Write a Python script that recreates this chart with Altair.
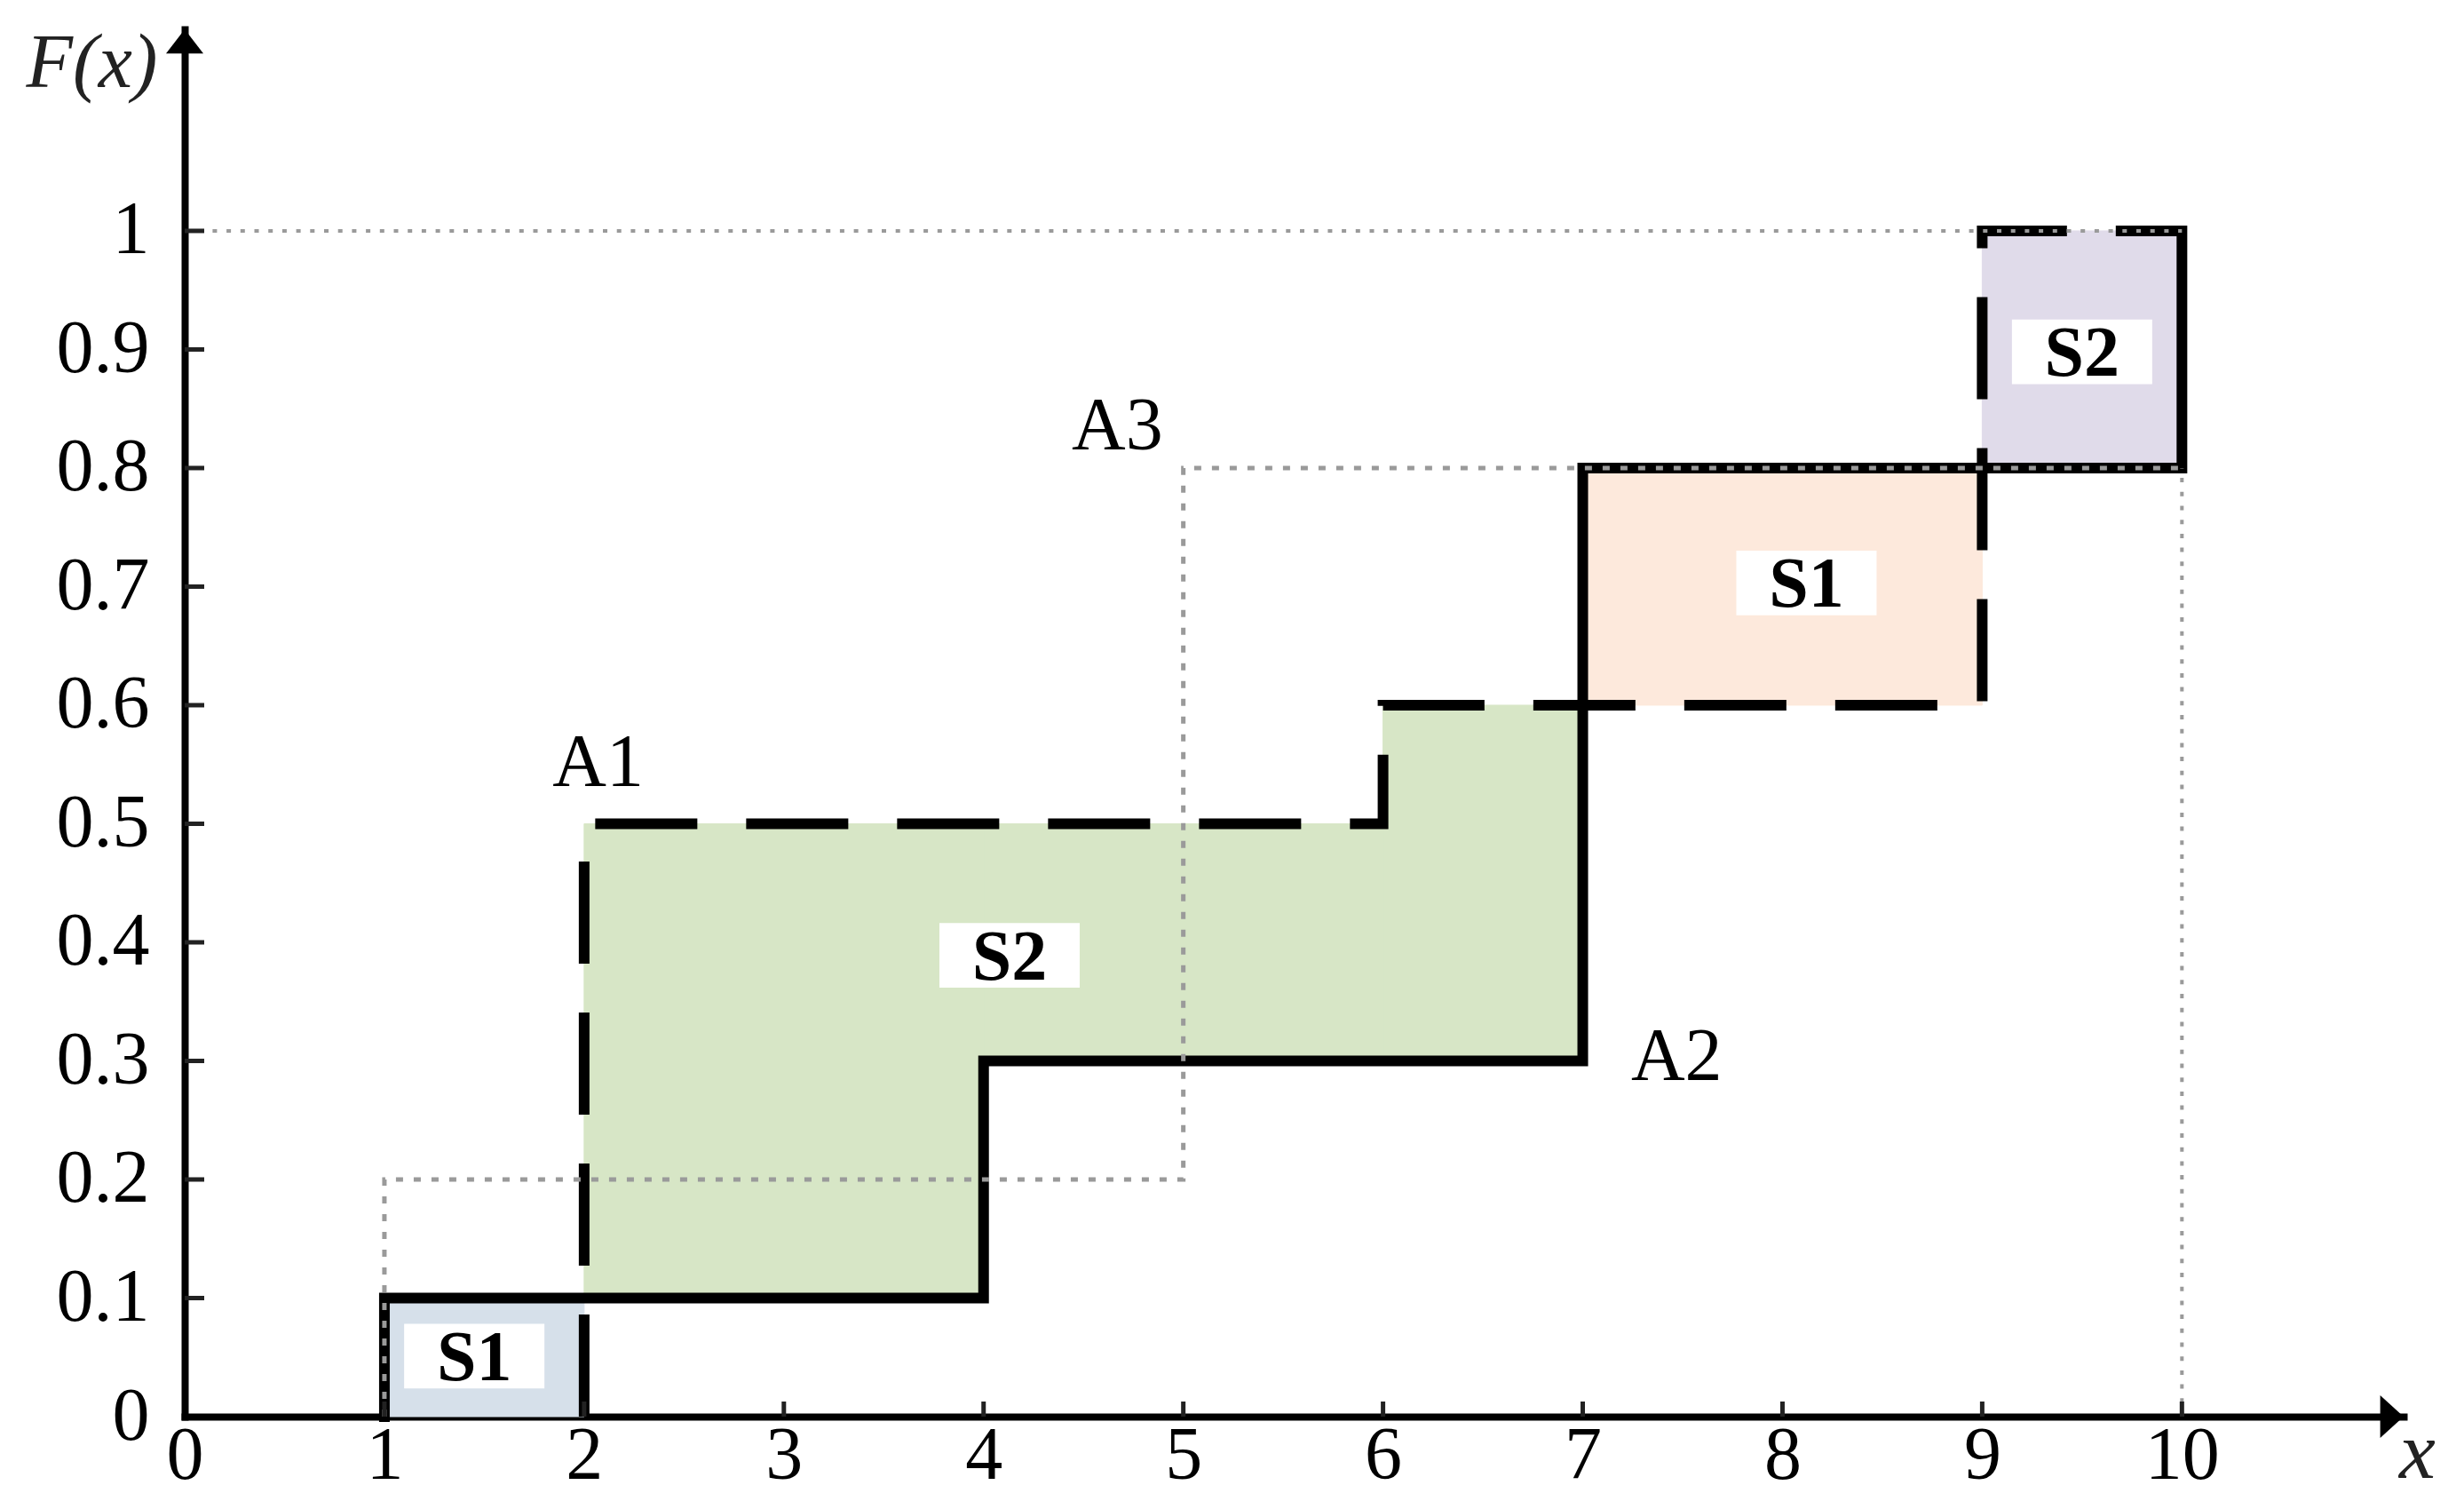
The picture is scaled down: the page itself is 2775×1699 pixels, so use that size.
import altair as alt
import pandas as pd

# ---- step functions (corner points) ----
a1_x = [2, 2, 6, 6, 9, 9, 10]
a1_y = [0, 0.5, 0.5, 0.6, 0.6, 1.0, 1.0]
a2_x = [1, 1, 4, 4, 7, 7, 10, 10]
a2_y = [0, 0.1, 0.1, 0.3, 0.3, 0.8, 0.8, 1.0]
a3_x = [1, 1, 5, 5, 10]
a3_y = [0, 0.2, 0.2, 0.8, 0.8]
ref_h_x = [0, 10]
ref_h_y = [1.0, 1.0]
ref_v_x = [10, 10]
ref_v_y = [0, 0.8]

# ---- shaded areas (rect pieces) ----
region_x = [1, 2, 4, 6, 7, 9]
region_x2 = [2, 4, 6, 7, 9, 10]
region_y = [0, 0.1, 0.3, 0.3, 0.6, 0.8]
region_y2 = [0.1, 0.5, 0.5, 0.6, 0.8, 1.0]
region_colors = ["#d6e0ea", "#d7e6c6", "#d7e6c6", "#d7e6c6", "#fde9dc", "#e0dbea"]

# ---- labels ----
area_labels = ["S1", "S2", "S1", "S2"]
area_label_x = [1.45, 4.13, 8.12, 9.5]
area_label_y = [0.051, 0.389, 0.703, 0.898]

curve_labels = ["A1", "A2", "A3"]
curve_label_x = [2.07, 7.47, 4.67]
curve_label_y = [0.553, 0.305, 0.837]

x_ticks = [0, 1, 2, 3, 4, 5, 6, 7, 8, 9, 10]
y_ticks = [0, 0.1, 0.2, 0.3, 0.4, 0.5, 0.6, 0.7, 0.8, 0.9, 1.0]
x_max = 11.11
y_max = 1.17

W, H = 2499, 1562
SERIF = "Liberation Serif"

xs = alt.Scale(domain=[0, x_max], nice=False, zero=False)
ys = alt.Scale(domain=[0, y_max], nice=False, zero=False)

x_axis = alt.Axis(
    values=x_ticks, format="~g", title="x",
    titleFont=SERIF, titleFontStyle="italic", titleFontWeight="normal",
    titleFontSize=92, titleColor="#222", titleX=2514, titleY=68,
    titleAlign="center", titleBaseline="alphabetic",
    labelFont=SERIF, labelFontSize=84, labelColor="black", labelPadding=3,
    labelFlush=False, labelOverlap=False,
    ticks=False, tickSize=0, grid=False,
    domainColor="black", domainWidth=8, domainCap="square",
)
y_axis = alt.Axis(
    values=y_ticks, format="~g", title="F(x)", titleAngle=0,
    titleFont=SERIF, titleFontStyle="italic", titleFontWeight="normal",
    titleFontSize=86, titleColor="#222", titleX=-105, titleY=64,
    titleAlign="center", titleBaseline="alphabetic",
    labelFont=SERIF, labelFontSize=84, labelColor="black", labelPadding=40,
    labelFlush=False, labelOverlap=False,
    ticks=False, tickSize=0, grid=False,
    domainColor="black", domainWidth=8, domainCap="square",
)

def X(field="x"):
    return alt.X(f"{field}:Q", scale=xs, axis=x_axis)

def Y(field="y"):
    return alt.Y(f"{field}:Q", scale=ys, axis=y_axis)

regions = pd.DataFrame({"x": region_x, "x2": region_x2, "y": region_y,
                        "y2": region_y2, "c": region_colors})
fills = alt.Chart(regions).mark_rect(strokeWidth=1).encode(
    x=X(), x2="x2:Q", y=Y(), y2="y2:Q",
    fill=alt.Fill("c:N", scale=None), stroke=alt.Stroke("c:N", scale=None),
)

def path_df(xv, yv):
    return pd.DataFrame({"x": xv, "y": yv, "i": list(range(len(xv)))})

def step_line(xv, yv, **kw):
    return alt.Chart(path_df(xv, yv)).mark_line(**kw).encode(
        x=X(), y=Y(), order="i:Q")

line_a2 = step_line(a2_x, a2_y, color="black", strokeWidth=12,
                    strokeCap="square", strokeJoin="miter")
line_a1 = step_line(a1_x, a1_y, color="black", strokeWidth=12,
                    strokeDash=[115, 55], strokeCap="butt", strokeJoin="miter")
line_a3 = step_line(a3_x, a3_y, color="#9a9a9a", strokeWidth=5,
                    strokeDash=[8, 12], strokeCap="butt")
line_rh = step_line(ref_h_x, ref_h_y, color="#9a9a9a", strokeWidth=4,
                    strokeDash=[5, 10.7], strokeCap="butt")
line_rv = step_line(ref_v_x, ref_v_y, color="#9a9a9a", strokeWidth=4,
                    strokeDash=[5, 10.7], strokeCap="butt")

# inside ticks
ytick_df = pd.DataFrame({"y": y_ticks[1:]})
yticks = alt.Chart(ytick_df).mark_rule(color="#222", strokeWidth=5).encode(
    y=Y(), x=alt.value(0), x2=alt.value(22))
xtick_df = pd.DataFrame({"x": x_ticks[1:]})
xticks = alt.Chart(xtick_df).mark_rule(color="#222", strokeWidth=5).encode(
    x=X(), y=alt.value(H), y2=alt.value(H - 17))

# arrows at axis ends
x_arrow = alt.Chart(pd.DataFrame({"x": [x_max], "y": [0]})).mark_point(
    shape="M0,0 L-1.1,-1 L-1.1,1 Z", size=2304, filled=True, color="black",
    opacity=1, strokeWidth=0).encode(x=X(), y=Y())
y_arrow = alt.Chart(pd.DataFrame({"x": [0], "y": [y_max]})).mark_point(
    shape="M0,0 L1,1.3 L-1,1.3 Z", size=1764, filled=True, color="black",
    opacity=1, strokeWidth=0).encode(x=X(), y=Y())

# area labels with white boxes
al = pd.DataFrame({"x": area_label_x, "y": area_label_y, "t": area_labels})
boxes = alt.Chart(al).mark_point(
    shape="M-1,-0.46 L1,-0.46 L1,0.46 L-1,0.46 Z", size=158 * 158,
    filled=True, color="white", opacity=1, strokeWidth=0).encode(x=X(), y=Y())
area_text = alt.Chart(al).mark_text(
    font=SERIF, fontSize=80, fontWeight="bold", color="black",
    align="center", baseline="middle", dy=3).encode(x=X(), y=Y(), text="t:N")

cl = pd.DataFrame({"x": curve_label_x, "y": curve_label_y, "t": curve_labels})
curve_text = alt.Chart(cl).mark_text(
    font=SERIF, fontSize=84, color="black",
    align="center", baseline="middle", dy=3).encode(x=X(), y=Y(), text="t:N")

chart = alt.layer(
    fills, line_a2, line_a1, line_a3, line_rh, line_rv,
    yticks, xticks, x_arrow, y_arrow, boxes, area_text, curve_text,
).properties(
    width=W, height=H,
    padding={"left": 200, "top": 25, "right": 60, "bottom": 90},
    autosize=alt.AutoSizeParams(type="none"),
).configure_view(stroke=None)

chart.save("out.html", embed_options={"renderer": "svg", "actions": False})
